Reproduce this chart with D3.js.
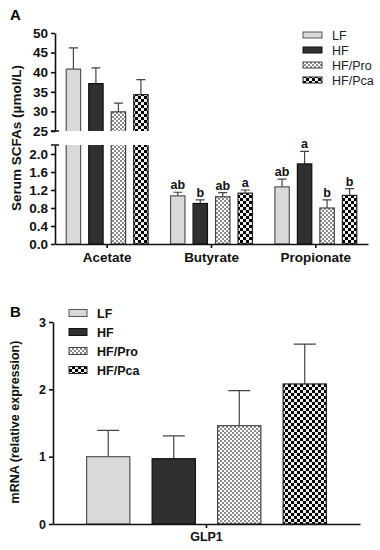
<!DOCTYPE html>
<html><head><meta charset="utf-8">
<script src="https://cdn.jsdelivr.net/npm/d3@7"></script>
<style>
body{margin:0;background:#fff;}
svg{display:block;font-family:Arial,"Liberation Sans",sans-serif;}
</style></head>
<body><svg id="c" width="380" height="550"></svg>
<script>
// ---- Data ----
const series = ["LF","HF","HF/Pro","HF/Pca"];
const acidCats = ["Acetate","Butyrate","Propionate"];
const meanLF  = [40.8, 1.07, 1.27];
const meanHF  = [37.1, 0.90, 1.78];
const meanPro = [29.9, 1.05, 0.80];
const meanPca = [34.3, 1.13, 1.08];
const semLF  = [5.4, 0.08, 0.17];
const semHF  = [4.0, 0.08, 0.28];
const semPro = [2.2, 0.09, 0.18];
const semPca = [3.8, 0.07, 0.15];
const lettersLF  = ["", "ab", "ab"];
const lettersHF  = ["", "b", "a"];
const lettersPro = ["", "ab", "b"];
const lettersPca = ["", "a", "b"];
const ticksTop = [25,30,35,40,45,50];
const ticksBot = [0,0.4,0.8,1.2,1.6,2.0];

const glpCat = ["GLP1"];
const glpMean = [1.00, 0.97, 1.46, 2.08];
const glpSem  = [0.39, 0.34, 0.52, 0.59];
const ticksB = [0,1,2,3];

// ---- Setup ----
const svg = d3.select("#c");
const defs = svg.append("defs");
const p1 = defs.append("pattern").attr("id","pro").attr("patternUnits","userSpaceOnUse").attr("width",4).attr("height",4);
p1.append("rect").attr("width",4).attr("height",4).attr("fill","#fff");
p1.append("rect").attr("width",2).attr("height",2).attr("fill","#8c8c8c");
p1.append("rect").attr("x",2).attr("y",2).attr("width",2).attr("height",2).attr("fill","#8c8c8c");
const p2 = defs.append("pattern").attr("id","pca").attr("patternUnits","userSpaceOnUse").attr("width",6).attr("height",6);
p2.append("rect").attr("width",6).attr("height",6).attr("fill","#eeeeee");
p2.append("rect").attr("width",3).attr("height",3).attr("fill","#000");
p2.append("rect").attr("x",3).attr("y",3).attr("width",3).attr("height",3).attr("fill","#000");

const fills = {"LF":"#d9d9d9","HF":"#303030","HF/Pro":"url(#pro)","HF/Pca":"url(#pca)"};
const strokes = {"LF":"#555","HF":"#111","HF/Pro":"#444","HF/Pca":"#222"};

const means = [meanLF, meanHF, meanPro, meanPca];
const sems = [semLF, semHF, semPro, semPca];
const letters = [lettersLF, lettersHF, lettersPro, lettersPca];

// ---- Panel A ----
const axX = 55;
const x0 = d3.scaleBand().domain(acidCats).range([55, 368]);
const x1 = d3.scaleBand().domain(series).range([-45, 45]).paddingInner(0.36).paddingOuter(0.18);
const yTop = d3.scaleLinear().domain([25,50]).range([131,33]);
const yBot = d3.scaleLinear().domain([0,2.2]).range([244,145]);

svg.append("text").attr("x",10).attr("y",20).attr("font-size",15).attr("font-weight","bold").text("A");

const gA = svg.append("g");
const dataA = [];
acidCats.forEach((c,i)=>series.forEach((s,j)=>dataA.push({c, s, v:means[j][i], e:sems[j][i], l:letters[j][i]})));

const bw = x1.bandwidth();
dataA.forEach(d=>{
  const xl = x0(d.c) + x0.bandwidth()/2 + x1(d.s);
  const xc = xl + bw/2;
  if (d.v > 2.2) {
    const yb0 = yBot(0), yb1 = yBot(2.2);
    gA.append("rect").attr("x",xl).attr("y",yb1).attr("width",bw).attr("height",yb0-yb1).attr("fill",fills[d.s]);
    gA.append("path").attr("d",`M${xl},${yb1}V${yb0}H${xl+bw}V${yb1}`).attr("fill","none").attr("stroke",strokes[d.s]).attr("stroke-width",1.2);
    const yt0 = yTop(25), yt1 = yTop(d.v);
    gA.append("rect").attr("x",xl).attr("y",yt1).attr("width",bw).attr("height",yt0-yt1).attr("fill",fills[d.s]);
    gA.append("path").attr("d",`M${xl},${yt0}V${yt1}H${xl+bw}V${yt0}`).attr("fill","none").attr("stroke",strokes[d.s]).attr("stroke-width",1.2);
    const ye = yTop(d.v + d.e);
    gA.append("path").attr("d",`M${xc},${yt1}V${ye}M${xc-4.5},${ye}H${xc+4.5}`).attr("stroke","#444").attr("stroke-width",1.2).attr("fill","none");
  } else {
    const y0 = yBot(0), y1 = yBot(d.v);
    const ye = yBot(d.v + d.e);
    gA.append("path").attr("d",`M${xc},${y1}V${ye}M${xc-4.5},${ye}H${xc+4.5}`).attr("stroke","#444").attr("stroke-width",1.2).attr("fill","none");
    gA.append("rect").attr("x",xl).attr("y",y1).attr("width",bw).attr("height",y0-y1).attr("fill",fills[d.s]).attr("stroke",strokes[d.s]).attr("stroke-width",1.2);
    if (d.l) gA.append("text").attr("x",xc).attr("y",ye-3).attr("text-anchor","middle").attr("font-size",12.5).attr("font-weight","bold").attr("fill","#111").text(d.l);
  }
});

const axTop = svg.append("g").attr("transform",`translate(${axX},0)`).call(d3.axisLeft(yTop).tickValues(ticksTop).tickSize(4).tickSizeOuter(0));
const axBot = svg.append("g").attr("transform",`translate(${axX},0)`).call(d3.axisLeft(yBot).tickValues(ticksBot).tickFormat(d3.format(".1f")).tickSize(4).tickSizeOuter(0));
[axTop, axBot].forEach(a=>{
  a.select(".domain").attr("stroke","#111").attr("stroke-width",1.6);
  a.selectAll(".tick line").attr("stroke","#111").attr("stroke-width",1.6);
  a.selectAll(".tick text").attr("font-size",13.5).attr("font-weight","bold").attr("fill","#111").attr("font-family","Arial, Liberation Sans, sans-serif");
});
svg.append("path").attr("d",`M${axX-4},${yTop(25)}H${axX+4}M${axX-4},${yBot(2.2)}H${axX+4}`).attr("stroke","#111").attr("stroke-width",1.6);

const axXA = svg.append("g").attr("transform",`translate(0,${yBot(0)})`).call(d3.axisBottom(x0).tickSize(4).tickSizeOuter(0).tickPadding(4));
axXA.select(".domain").attr("stroke","#111").attr("stroke-width",1.6);
axXA.selectAll(".tick line").attr("stroke","#111").attr("stroke-width",1.6);
axXA.selectAll(".tick text").attr("font-size",13.5).attr("font-weight","bold").attr("fill","#111").attr("font-family","Arial, Liberation Sans, sans-serif");

svg.append("text").attr("transform","translate(21,138) rotate(-90)").attr("text-anchor","middle").attr("font-size",13.5).attr("font-weight","bold").attr("fill","#111").text("Serum SCFAs (\u00b5mol/L)");

const legA = svg.append("g");
series.forEach((s,i)=>{
  const yy = 35 + i*15;
  legA.append("rect").attr("x",303).attr("y",yy-3).attr("width",19).attr("height",6).attr("fill",fills[s]).attr("stroke",strokes[s]).attr("stroke-width",1);
  legA.append("text").attr("x",332).attr("y",yy+4.5).attr("font-size",12.5).attr("fill","#222").text(s);
});

// ---- Panel B ----
svg.append("text").attr("x",10).attr("y",317).attr("font-size",15).attr("font-weight","bold").text("B");
const bx0 = d3.scaleBand().domain(glpCat).range([53, 360]);
const bx1 = d3.scaleBand().domain(series).range([-131, 131]).paddingInner(0.34).paddingOuter(0.17);
const by = d3.scaleLinear().domain([0,3]).range([524,322]);
const gB = svg.append("g");
series.forEach((s,j)=>{
  const xl = bx0("GLP1") + bx0.bandwidth()/2 + bx1(s);
  const w = bx1.bandwidth();
  const xc = xl + w/2;
  const y1 = by(glpMean[j]), ye = by(glpMean[j] + glpSem[j]);
  gB.append("path").attr("d",`M${xc},${y1}V${ye}M${xc-11},${ye}H${xc+11}`).attr("stroke","#444").attr("stroke-width",1.2).attr("fill","none");
  gB.append("rect").attr("x",xl).attr("y",y1).attr("width",w).attr("height",by(0)-y1).attr("fill",fills[s]).attr("stroke",strokes[s]).attr("stroke-width",1.2);
});
const axYB = svg.append("g").attr("transform","translate(53,0)").call(d3.axisLeft(by).tickValues(ticksB).tickFormat(d3.format("d")).tickSize(4).tickSizeOuter(0));
const axXB = svg.append("g").attr("transform",`translate(0,${by(0)})`).call(d3.axisBottom(bx0).tickSize(4).tickSizeOuter(0).tickPadding(4));
[axYB, axXB].forEach(a=>{
  a.select(".domain").attr("stroke","#111").attr("stroke-width",1.6);
  a.selectAll(".tick line").attr("stroke","#111").attr("stroke-width",1.6);
  a.selectAll(".tick text").attr("font-size",12.5).attr("font-weight","bold").attr("fill","#111").attr("font-family","Arial, Liberation Sans, sans-serif");
});
svg.append("text").attr("transform","translate(19,422) rotate(-90)").attr("text-anchor","middle").attr("font-size",12.5).attr("font-weight","bold").attr("fill","#111").text("mRNA (relative expression)");

series.forEach((s,i)=>{
  const yy = 313 + i*19;
  svg.append("rect").attr("x",69).attr("y",yy-3.5).attr("width",18).attr("height",7).attr("fill",fills[s]).attr("stroke",strokes[s]).attr("stroke-width",1);
  svg.append("text").attr("x",97).attr("y",yy+4.5).attr("font-size",12.5).attr("font-weight","bold").attr("fill","#111").text(s);
});
</script></body></html>
